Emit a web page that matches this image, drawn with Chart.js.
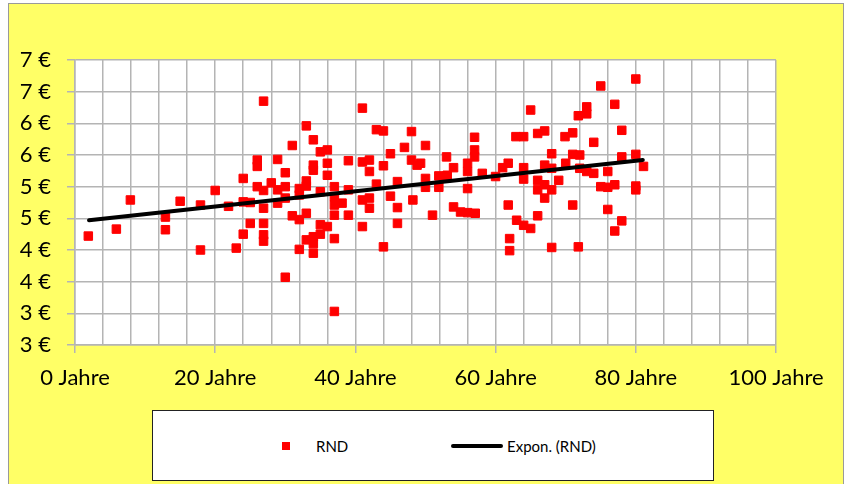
<!DOCTYPE html>
<html>
<head>
<meta charset="utf-8">
<script src="https://cdn.jsdelivr.net/npm/chart.js@4"></script>
<style>
  body { margin: 0; background: #fff; width: 846px; height: 484px; overflow: hidden; position: relative; font-family: Lato, sans-serif; }
  #frame { position: absolute; left: 8px; top: 3px; width: 834px; height: 490px; background: #ffff66; border: 1px solid #9a9a9a; }
  #chartWrap { position: absolute; left: 0; top: 0; width: 846px; height: 484px; }
  #legend { position: absolute; left: 152px; top: 410px; width: 562px; height: 71px; background: #fff; border: 1px solid #222; box-sizing: border-box; font-size: 15px; color: #000; }
  .item { position: absolute; top: 0; height: 69px; display: flex; align-items: center; }
  .sq { width: 8px; height: 8px; background: #ff0000; display: inline-block; }
  .ln { width: 52px; height: 4px; background: #000; border-radius: 2px; display: inline-block; }
</style>
</head>
<body>
<div id="frame"></div>
<div id="chartWrap"><canvas id="scatterChart" width="846" height="484"></canvas></div>
<div id="legend">
  <div class="item" style="left:129px"><span class="sq"></span><span style="margin-left:26px">RND</span></div>
  <div class="item" style="left:298px"><span class="ln"></span><span style="margin-left:4px">Expon. (RND)</span></div>
</div>
<script>
// age in years, price in euro
const ages = [1.9, 5.9, 7.9, 12.9, 12.9, 15.0, 17.9, 17.9, 20.0, 21.9, 23.0, 24.0, 24.0, 24.0, 25.0, 25.0,
  26.0, 26.0, 26.0, 26.9, 26.9, 26.9, 26.9, 26.9, 26.9, 28.0, 28.9, 28.9, 28.9, 30.0, 30.0, 30.0, 30.0,
  31.0, 31.0, 32.0, 32.0, 32.0, 32.0, 33.0, 33.0, 33.0, 33.0, 33.0, 34.0, 34.0, 34.0, 34.0, 34.0, 34.0,
  35.0, 35.0, 35.0, 35.0, 36.0, 36.0, 36.0, 36.0, 37.0, 37.0, 37.0, 37.0, 37.0, 37.0, 38.1, 39.0, 39.0,
  39.0, 41.0, 41.0, 41.0, 41.0, 42.0, 42.0, 42.0, 42.0, 43.0, 43.0, 44.0, 44.0, 44.0, 45.0, 45.0, 46.0,
  46.0, 46.0, 47.0, 48.0, 48.0, 48.2, 48.8, 49.3, 50.0, 50.0, 50.0, 51.0, 51.9, 51.9, 53.0, 53.1, 54.0,
  54.0, 55.0, 56.0, 56.0, 56.0, 56.0, 57.0, 57.0, 57.0, 57.1, 58.1, 60.0, 61.0, 61.8, 61.8, 62.0, 62.0,
  62.9, 63.0, 64.0, 64.0, 64.0, 64.0, 65.0, 65.0, 66.0, 66.0, 66.0, 66.0, 67.0, 67.0, 67.0, 67.0, 68.0,
  68.0, 68.0, 68.0, 69.0, 69.9, 70.0, 71.0, 71.0, 71.0, 71.8, 71.8, 72.0, 72.0, 73.0, 73.0, 73.0, 74.0,
  74.0, 75.0, 75.0, 76.0, 76.0, 76.0, 77.0, 77.0, 77.0, 78.0, 78.0, 78.0, 80.0, 80.0, 80.0, 80.0, 81.1];
const prices = [4.72, 4.83, 5.29, 5.02, 4.82, 5.27, 5.21, 4.50, 5.44, 5.19, 4.53, 5.63, 5.26, 4.75, 5.25, 4.92,
  5.92, 5.82, 5.50, 6.85, 5.44, 5.16, 4.92, 4.74, 4.64, 5.56, 5.93, 5.45, 5.24, 5.72, 5.50, 5.32, 4.07,
  6.15, 5.04, 5.47, 5.37, 4.98, 4.51, 6.46, 5.59, 5.51, 5.08, 4.66, 6.24, 5.84, 5.76, 4.71, 4.60, 4.45,
  6.05, 5.42, 4.90, 4.75, 6.08, 5.87, 5.68, 4.87, 5.50, 5.34, 5.21, 5.05, 4.68, 3.53, 5.24, 5.91, 5.45,
  5.05, 6.74, 5.89, 5.29, 4.87, 5.92, 5.74, 5.32, 5.16, 6.40, 5.54, 6.38, 5.83, 4.55, 6.02, 5.35, 5.58,
  5.17, 4.92, 6.12, 6.37, 5.92, 5.29, 5.84, 5.87, 6.15, 5.63, 5.49, 5.05, 5.67, 5.49, 5.97, 5.68, 5.80,
  5.18, 5.10, 5.87, 5.74, 5.47, 5.09, 6.28, 6.08, 5.97, 5.08, 5.71, 5.66, 5.80, 5.87, 5.21, 4.68, 4.49,
  6.29, 4.97, 6.29, 5.80, 5.62, 4.89, 6.71, 4.84, 6.34, 5.60, 5.45, 5.04, 6.38, 5.84, 5.53, 5.32, 6.02,
  5.79, 5.45, 4.54, 5.60, 6.29, 5.87, 6.35, 6.01, 5.21, 6.62, 4.55, 6.00, 5.79, 6.76, 6.65, 5.74, 6.20,
  5.71, 7.09, 5.50, 5.74, 5.49, 5.14, 6.80, 5.53, 4.80, 6.39, 5.97, 4.96, 7.20, 6.01, 5.51, 5.45, 5.82];

// exponential trend line, start and end
const trendAges = [2, 81];
const trendPrices = [4.97, 5.92];

const gridColor = '#b4b4b4';

// white plot area on the yellow chart background
const plotBg = {
  id: 'plotBg',
  beforeDraw(chart) {
    const { ctx, chartArea: a } = chart;
    ctx.save();
    ctx.fillStyle = '#fff';
    ctx.fillRect(a.left, a.top, a.right - a.left, a.bottom - a.top);
    ctx.restore();
  }
};

new Chart(document.getElementById('scatterChart'), {
  type: 'scatter',
  data: {
    datasets: [
      {
        label: 'RND',
        data: ages.map((a, i) => ({ x: a, y: prices[i] })),
        pointStyle: 'rect',
        pointRadius: 6,
        pointBorderWidth: 1,
        backgroundColor: '#ff0000',
        borderColor: '#ff0000',
        order: 2
      },
      {
        label: 'Expon. (RND)',
        data: trendAges.map((a, i) => ({ x: a, y: trendPrices[i] })),
        showLine: true,
        pointRadius: 0,
        borderColor: '#000',
        borderWidth: 4,
        borderCapStyle: 'round',
        order: 1
      }
    ]
  },
  options: {
    responsive: false,
    animation: false,
    devicePixelRatio: 1,
    layout: { padding: { left: 0, top: 60, right: 70, bottom: 89 } },
    plugins: { legend: { display: false }, tooltip: { enabled: false } },
    scales: {
      x: {
        type: 'linear',
        min: 0, max: 100,
        afterFit: s => { s.height = 50; },
        border: { color: gridColor, width: 1.5 },
        grid: {
          color: gridColor, lineWidth: 1.5, tickLength: 8,
          tickColor: c => (c.tick && c.tick.value % 20 === 0) ? gridColor : 'rgba(0,0,0,0)'
        },
        ticks: {
          stepSize: 4, autoSkip: false, maxRotation: 0, padding: 12,
          color: '#000', font: { family: 'Lato', size: 22 },
          callback: v => v % 20 === 0 ? v + ' Jahre' : ''
        }
      },
      y: {
        min: 3, max: 7.5,
        afterFit: s => { s.width = 75; },
        border: { color: gridColor, width: 1.5 },
        grid: { color: gridColor, lineWidth: 1.5, tickLength: 8 },
        ticks: {
          stepSize: 0.5, padding: 16,
          color: '#000', font: { family: 'Lato', size: 22 },
          callback: v => Math.floor(v) + ' €'
        }
      }
    }
  },
  plugins: [plotBg]
});
</script>
</body>
</html>
